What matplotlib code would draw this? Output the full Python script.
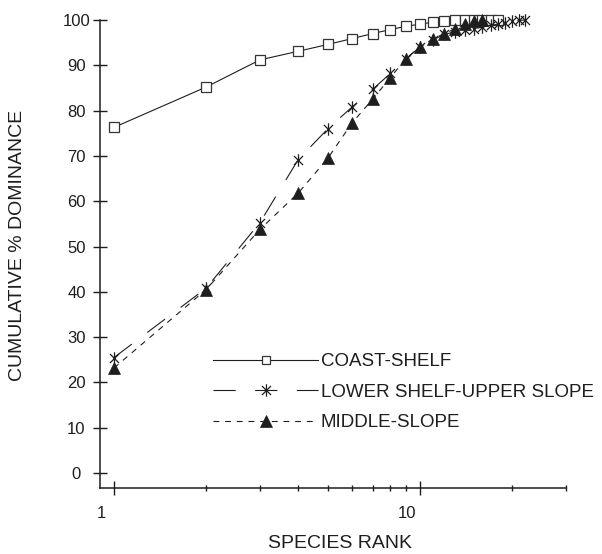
import matplotlib
matplotlib.use('Agg')
import matplotlib.pyplot as plt
from matplotlib.path import Path
from matplotlib.lines import Line2D
import matplotlib.transforms as mtransforms

plt.rcParams['font.family'] = ['Liberation Sans', 'DejaVu Sans']
plt.rcParams['lines.scale_dashes'] = False

# ---- data ----
coast_rank = list(range(1, 19))
coast_val = [76.3, 85.2, 91.2, 93.1, 94.6, 95.9, 97.0, 97.9, 98.6, 99.1,
             99.5, 99.8, 99.9, 100, 100, 100, 100, 100]
lower_rank = list(range(1, 23))
lower_val = [25.5, 40.8, 55.3, 69.2, 76.0, 80.8, 84.7, 88.2, 91.5, 94.0,
             95.6, 96.8, 97.4, 97.8, 98.1, 98.4, 98.8, 99.1, 99.4, 99.7,
             99.9, 100]
middle_rank = list(range(1, 17))
middle_val = [23.2, 40.5, 53.8, 61.8, 69.5, 77.3, 82.5, 87.3, 91.5, 94.0,
              95.8, 97.0, 98.0, 99.1, 99.7, 100]

series_labels = ['COAST-SHELF', 'LOWER SHELF-UPPER SLOPE', 'MIDDLE-SLOPE']
y_ticks = [0, 10, 20, 30, 40, 50, 60, 70, 80, 90, 100]
x_major = [1, 10]
x_major_labels = ['1', '10']
x_minor = [2, 3, 4, 5, 6, 7, 8, 9, 20, 30]
x_title = 'SPECIES RANK'
y_title = 'CUMULATIVE % DOMINANCE'

# ---- styling ----
INK = '#1e1e1e'
W, H = 602, 554
fig = plt.figure(figsize=(W / 100, H / 100), dpi=100)
ax = fig.add_axes([100 / W, (H - 488) / H, 466 / W, 468 / H])

star = Path([(0, -1), (0, 1), (-0.72, -0.72), (0.72, 0.72), (-0.72, 0.72), (0.72, -0.72)],
            [Path.MOVETO, Path.LINETO, Path.MOVETO, Path.LINETO, Path.MOVETO, Path.LINETO])

lw = 0.8
long_dash = (0, (16, 14))
short_dash = (0, (4.2, 4.2))

ax.plot(coast_rank, coast_val, color=INK, lw=lw, ls='-', marker='s', ms=7.3,
        mfc='white', mec='#333333', mew=0.9, clip_on=False, zorder=3)
ax.plot(lower_rank, lower_val, color=INK, lw=lw, ls=long_dash, marker=star, ms=9,
        mec=INK, mew=0.9, clip_on=False, zorder=4)
ax.plot(middle_rank, middle_val, color=INK, lw=lw, ls=short_dash, marker='^', ms=8,
        mfc=INK, mec=INK, mew=0.5, clip_on=False, zorder=5)

ax.set_xscale('log')
ax.set_xlim(0.9, 30)
ax.set_ylim(-3.3, 100)

for s in ['top', 'right']:
    ax.spines[s].set_visible(False)
for s in ['left', 'bottom']:
    ax.spines[s].set_color(INK)
    ax.spines[s].set_linewidth(1.1)

ax.set_yticks(y_ticks)
ax.set_yticklabels([str(v) for v in y_ticks])
ax.set_xticks(x_major)
ax.set_xticklabels(x_major_labels)
ax.set_xticks(x_minor, minor=True)
ax.set_xticklabels([], minor=True)

ax.tick_params(axis='y', which='major', direction='inout', length=10, width=1.0,
               color=INK, labelsize=12, labelcolor=INK, pad=12)
ax.tick_params(axis='x', which='major', direction='inout', length=10, width=1.0,
               color=INK, labelsize=12, labelcolor=INK, pad=8)
ax.tick_params(axis='x', which='minor', direction='inout', length=4.5, width=1.0,
               color=INK)
for lab in ax.get_yticklabels():
    lab.set_horizontalalignment('center')
shift = mtransforms.ScaledTranslation(-13 / 100, 0, fig.dpi_scale_trans)
for lab in ax.get_xticklabels():
    lab.set_transform(lab.get_transform() + shift)

fig.text(340 / W, 1 - 543 / H, x_title, ha='center', va='center', fontsize=14, color=INK)
fig.text(18 / W, 1 - 245 / H, y_title, ha='center', va='center', rotation=90,
         fontsize=14, color=INK)

handles = [
    Line2D([], [], color=INK, lw=lw, ls='-', marker='s', ms=6, mfc='white',
           mec='#333333', mew=0.9),
    Line2D([], [], color=INK, lw=lw, ls=long_dash, marker=star, ms=9, mec=INK, mew=0.9),
    Line2D([], [], color=INK, lw=lw, ls=short_dash, marker='^', ms=8, mfc=INK, mec=INK,
           mew=0.5),
]
leg = ax.legend(handles, series_labels, loc='upper left',
                bbox_to_anchor=(213 / W, 1 - 353 / H), bbox_transform=fig.transFigure,
                frameon=False, fontsize=13.5, handlelength=5.6, handletextpad=0.15,
                labelspacing=0.72, borderpad=0, borderaxespad=0)
for t in leg.get_texts():
    t.set_color(INK)

fig.savefig('out.png', dpi=100)
